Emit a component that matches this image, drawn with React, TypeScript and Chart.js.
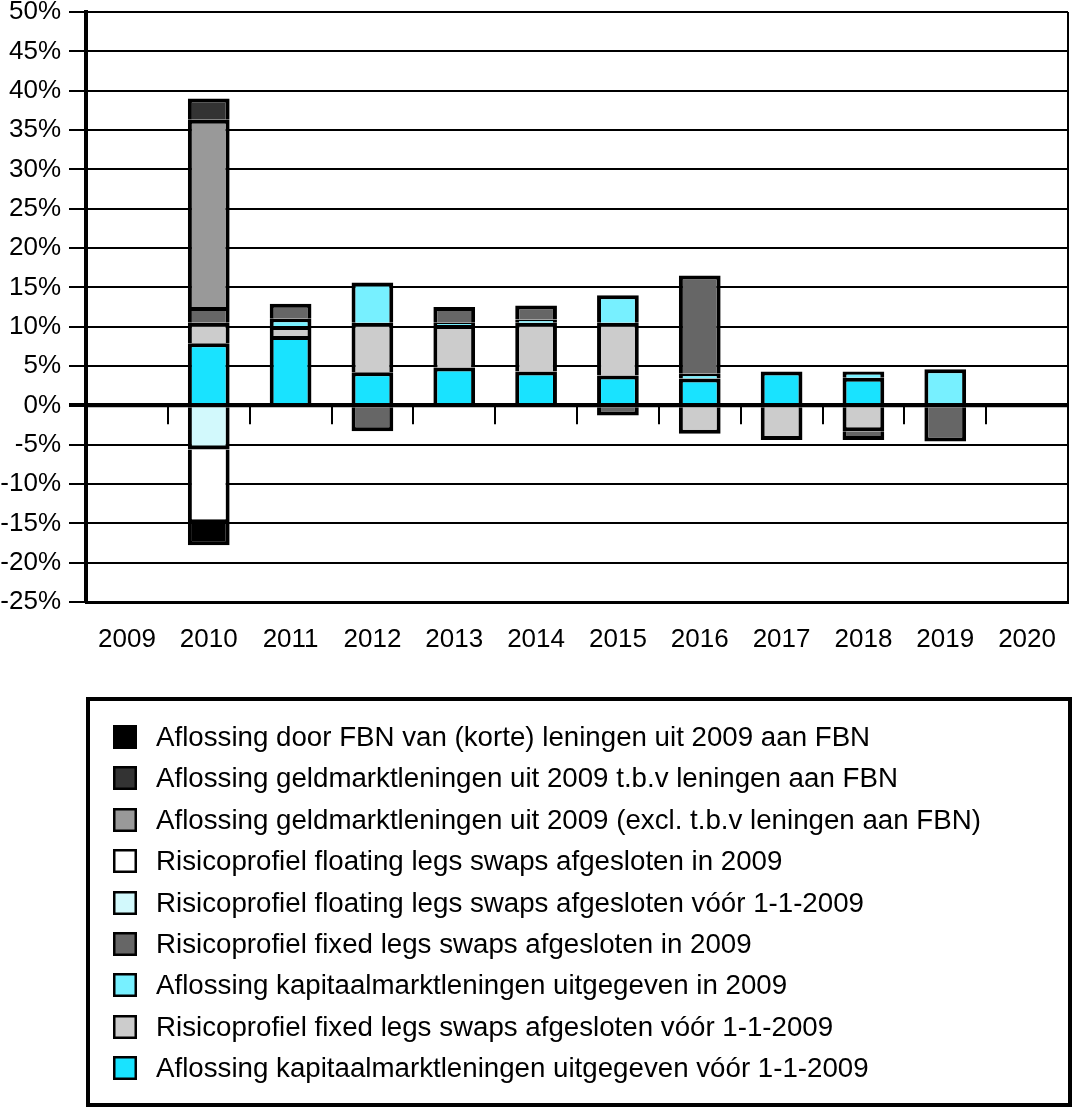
import React, { useEffect, useRef } from "react";
import { Chart, registerables } from "chart.js";

Chart.register(...registerables);

const categories = ["2009", "2010", "2011", "2012", "2013", "2014", "2015", "2016", "2017", "2018", "2019", "2020"];

// Stack order bottom-up (legend shows them in reverse)
const kapitaalVoor = [null, 7.9, 8.8, 4.2, 4.8, 4.3, 3.8, 3.4, 4.3, 3.5, null, null];
const fixedVoor = [null, 2.6, 1.3, 6.3, 5.4, 6.2, 6.7, -3.6, -4.4, -3.3, null, null];
const kapitaal2009 = [null, null, 0.9, 5.1, 0.3, 0.4, 3.5, 0.6, null, 0.8, 4.6, null];
const fixed2009 = [null, 2.0, 1.9, -3.3, 2.0, 1.8, -1.3, 12.5, null, -1.1, -4.6, null];
const floatingVoor = [null, -5.6, null, null, null, null, null, null, null, null, null, null];
const floating2009 = [null, -9.4, null, null, null, null, null, null, null, null, null, null];
const geldExcl = [null, 23.8, null, null, null, null, null, null, null, null, null, null];
const geldTbv = [null, 2.7, null, null, null, null, null, null, null, null, null, null];
const aflossingFBN = [null, -2.8, null, null, null, null, null, null, null, null, null, null];

const seriesLabels = [
  "Aflossing kapitaalmarktleningen uitgegeven vóór 1-1-2009",
  "Risicoprofiel fixed legs swaps afgesloten vóór 1-1-2009",
  "Aflossing kapitaalmarktleningen uitgegeven in 2009",
  "Risicoprofiel fixed legs swaps afgesloten in 2009",
  "Risicoprofiel floating legs swaps afgesloten vóór 1-1-2009",
  "Risicoprofiel floating legs swaps afgesloten in 2009",
  "Aflossing geldmarktleningen uit 2009 (excl. t.b.v leningen aan FBN)",
  "Aflossing geldmarktleningen uit 2009 t.b.v leningen aan FBN",
  "Aflossing door FBN van (korte) leningen uit 2009 aan FBN",
];
const seriesColors = ["#19E3FF", "#CCCCCC", "#77F0FF", "#666666", "#D2F9FC", "#FFFFFF", "#999999", "#333333", "#000000"];
const seriesData = [kapitaalVoor, fixedVoor, kapitaal2009, fixed2009, floatingVoor, floating2009, geldExcl, geldTbv, aflossingFBN];

const yMin = -25;
const yMax = 50;
const yStep = 5;

const FONT = "'Liberation Sans', Arial, Helvetica, sans-serif";

const overlayPlugin = {
  id: "overlay",
  afterDatasetsDraw(chart: any) {
    const ctx = chart.ctx;
    const xs = chart.scales.x;
    const ys = chart.scales.y;
    const area = chart.chartArea;
    const y0 = ys.getPixelForValue(0);
    ctx.save();
    ctx.strokeStyle = "#000";
    // zero line
    ctx.lineWidth = 4;
    ctx.beginPath();
    ctx.moveTo(area.left, y0);
    ctx.lineTo(area.right, y0);
    ctx.stroke();
    // category boundary ticks under zero line
    ctx.lineWidth = 2;
    for (let i = 0; i < categories.length - 1; i++) {
      const px = Math.round((xs.getPixelForValue(i) + xs.getPixelForValue(i + 1)) / 2);
      ctx.beginPath();
      ctx.moveTo(px, y0);
      ctx.lineTo(px, y0 + 19);
      ctx.stroke();
    }
    // right frame
    ctx.lineWidth = 2;
    ctx.beginPath();
    ctx.moveTo(area.right, area.top);
    ctx.lineTo(area.right, area.bottom);
    ctx.stroke();
    ctx.restore();
  },
  afterDraw(chart: any) {
    const ctx = chart.ctx;
    ctx.save();
    ctx.strokeStyle = "#000";
    ctx.lineWidth = 4;
    ctx.strokeRect(88, 699, 982, 406);
    const ds = chart.data.datasets.slice().reverse();
    ctx.font = "27.7px " + FONT;
    ctx.textBaseline = "middle";
    ds.forEach((d: any, i: number) => {
      const y = Math.round(737 + i * 41.4);
      ctx.fillStyle = d.backgroundColor;
      ctx.fillRect(113, y - 12, 24, 24);
      ctx.lineWidth = 2.5;
      ctx.strokeStyle = "#000";
      ctx.strokeRect(114.25, y - 10.75, 21.5, 21.5);
      ctx.fillStyle = "#000";
      ctx.fillText(d.label, 156, y + 1);
    });
    ctx.restore();
  },
};

export default function App() {
  const canvasRef = useRef<HTMLCanvasElement | null>(null);

  useEffect(() => {
    if (!canvasRef.current) return;
    const chart = new Chart(canvasRef.current, {
      type: "bar",
      data: {
        labels: categories,
        datasets: seriesData.map((data, i) => ({
          label: seriesLabels[i],
          data: data as any,
          backgroundColor: seriesColors[i],
          borderColor: "#000",
          borderWidth: 4,
          categoryPercentage: 1,
          barPercentage: 0.51,
        })),
      },
      options: {
        animation: false,
        responsive: true,
        maintainAspectRatio: false,
        layout: { padding: { top: 12, right: 5, left: 0, bottom: 0 } },
        plugins: {
          legend: { display: false },
          tooltip: { enabled: false },
        },
        scales: {
          x: {
            stacked: true,
            offset: true,
            grid: { display: false, drawTicks: false },
            border: { display: true, color: "#000", width: 3 },
            ticks: {
              color: "#000",
              padding: 22,
              font: { family: FONT, size: 26 },
              maxRotation: 0,
              autoSkip: false,
            },
            afterFit(scale: any) {
              scale.height = 510;
              scale.paddingLeft = 0;
              scale.paddingRight = 0;
            },
          },
          y: {
            stacked: true,
            min: yMin,
            max: yMax,
            grid: {
              color: "#000",
              lineWidth: (c: any) => (c.tick && c.tick.value === 0 ? 4 : 2),
              tickLength: 17,
              drawTicks: true,
            },
            border: { display: true, color: "#000", width: 4 },
            ticks: {
              stepSize: yStep,
              color: "#000",
              padding: 8,
              font: { family: FONT, size: 26 },
              callback: (v: any) => v + "%",
            },
            afterFit(scale: any) {
              scale.width = 86;
              scale.paddingTop = 0;
              scale.paddingBottom = 0;
            },
          },
        },
      },
      plugins: [overlayPlugin],
    });
    return () => chart.destroy();
  }, []);

  return (
    <div style={{ position: "absolute", left: 0, top: 0, width: 1073, height: 1112, background: "#fff" }}>
      <canvas ref={canvasRef} />
    </div>
  );
}
